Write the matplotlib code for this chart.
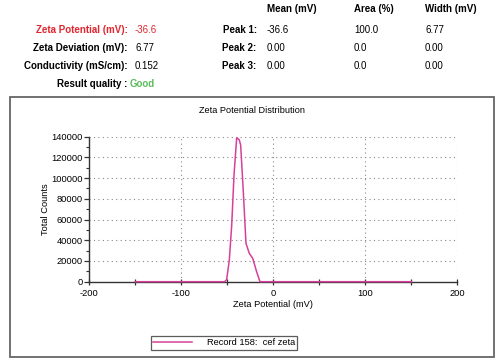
import matplotlib
matplotlib.use("Agg")
import matplotlib.pyplot as plt
from matplotlib.patches import Rectangle
from matplotlib.ticker import MultipleLocator

plt.rcParams["axes.unicode_minus"] = False

# ---- data ----
summary_labels = ["Zeta Potential (mV):", "Zeta Deviation (mV):", "Conductivity (mS/cm):"]
summary_values = ["-36.6", "6.77", "0.152"]
peak_headers = ["Mean (mV)", "Area (%)", "Width (mV)"]
peak_labels = ["Peak 1:", "Peak 2:", "Peak 3:"]
peak_mean = ["-36.6", "0.00", "0.00"]
peak_area = ["100.0", "0.0", "0.0"]
peak_width = ["6.77", "0.00", "0.00"]
quality_label = "Result quality :"
quality_value = "Good"

zeta_mv = [-150, -53, -50.7, -47.8, -45.2, -42.7, -39.8, -37.0, -35.5, -32.6,
           -29.7, -26.1, -22.4, -18.1, -14.5, 150]
counts = [0, 0, 2000, 21000, 54700, 103000, 139000, 137000, 132000, 87000,
          37000, 27400, 22600, 9600, 0, 0]
series_name = "Record 158:  cef zeta"

W, H = 500, 364
FONT = "Liberation Sans"
RED = "#e0262e"
GREEN = "#5cbb5c"
LINE = "#d6409a"

fig = plt.figure(figsize=(W / 100, H / 100), dpi=100)
fig.patch.set_facecolor("white")


def fx(x):
    return x / W


def fy(y):
    return 1 - y / H


def txt(x, y, s, ha="left", bold=False, color="black", size=7.0):
    fig.text(fx(x), fy(y), s, ha=ha, va="center", fontsize=size,
             fontweight="bold" if bold else "normal", color=color, family=FONT)


# ---- header ----
hdr_x = [267, 354, 425]
for x, h in zip(hdr_x, peak_headers):
    txt(x, 8.5, h, bold=True)

rows_y = [30, 48.3, 66]
for i, y in enumerate(rows_y):
    col = RED if i == 0 else "black"
    txt(127.7, y, summary_labels[i], ha="right", bold=True, color=col)
    txt(135, y, summary_values[i], color=col)
    txt(256.7, y, peak_labels[i], ha="right", bold=True)
    txt(hdr_x[0], y, peak_mean[i])
    txt(hdr_x[1], y, peak_area[i])
    txt(hdr_x[2], y, peak_width[i])

txt(127.7, 84, quality_label, ha="right", bold=True)
txt(130, 84, quality_value, color=GREEN, bold=True)

# ---- chart frame ----
fig.patches.append(Rectangle((fx(9.5), fy(357)), fx(494) - fx(9.5), fy(96.5) - fy(357),
                             transform=fig.transFigure, fill=False,
                             edgecolor="#666666", linewidth=1.3))

fig.text(fx(252), fy(110.3), "Zeta Potential Distribution", ha="center", va="center",
         fontsize=6.6, family=FONT)

# ---- axes ----
left, right, top, bottom = 89.3, 457.3, 136.7, 281.7
ax = fig.add_axes([fx(left), fy(bottom), (right - left) / W, (bottom - top) / H])
ax.plot(zeta_mv, counts, color=LINE, linewidth=1.1, label=series_name, zorder=3,
        clip_on=False)
ax.set_xlim(-200, 200)
ax.set_ylim(0, 140000)
ax.xaxis.set_major_locator(MultipleLocator(100))
ax.xaxis.set_minor_locator(MultipleLocator(50))
ax.yaxis.set_major_locator(MultipleLocator(20000))
ax.yaxis.set_minor_locator(MultipleLocator(10000))
for s in ["top", "right"]:
    ax.spines[s].set_visible(False)
for s in ["left", "bottom"]:
    ax.spines[s].set_color("#333333")
    ax.spines[s].set_linewidth(1.0)

ax.grid(True, which="major", linestyle=(0, (1, 3)), color="#888888", linewidth=0.8)
ax.tick_params(axis="y", which="major", direction="out", length=3.5, width=0.9,
               labelsize=6.7, pad=1.0, color="#333333")
ax.tick_params(axis="y", which="minor", direction="out", length=2.5, width=0.8,
               color="#333333")
ax.tick_params(axis="x", which="both", direction="inout", length=4, width=0.9,
               labelsize=6.7, pad=3, color="#333333")
for lab in ax.get_xticklabels() + ax.get_yticklabels():
    lab.set_family(FONT)
ax.set_ylabel("Total Counts", fontsize=6.7, family=FONT, labelpad=1)
ax.set_xlabel("Zeta Potential (mV)", fontsize=6.7, family=FONT, labelpad=2)

leg = fig.legend(loc="center", bbox_to_anchor=(fx(224), fy(342.8)), ncol=1,
                 prop={"family": FONT, "size": 6.7}, frameon=True, fancybox=False,
                 handlelength=4.2, handletextpad=1.6, borderpad=0.25,
                 borderaxespad=0)
leg.get_frame().set_edgecolor("#333333")
leg.get_frame().set_linewidth(0.9)

fig.savefig("out.png", dpi=100, facecolor="white")
